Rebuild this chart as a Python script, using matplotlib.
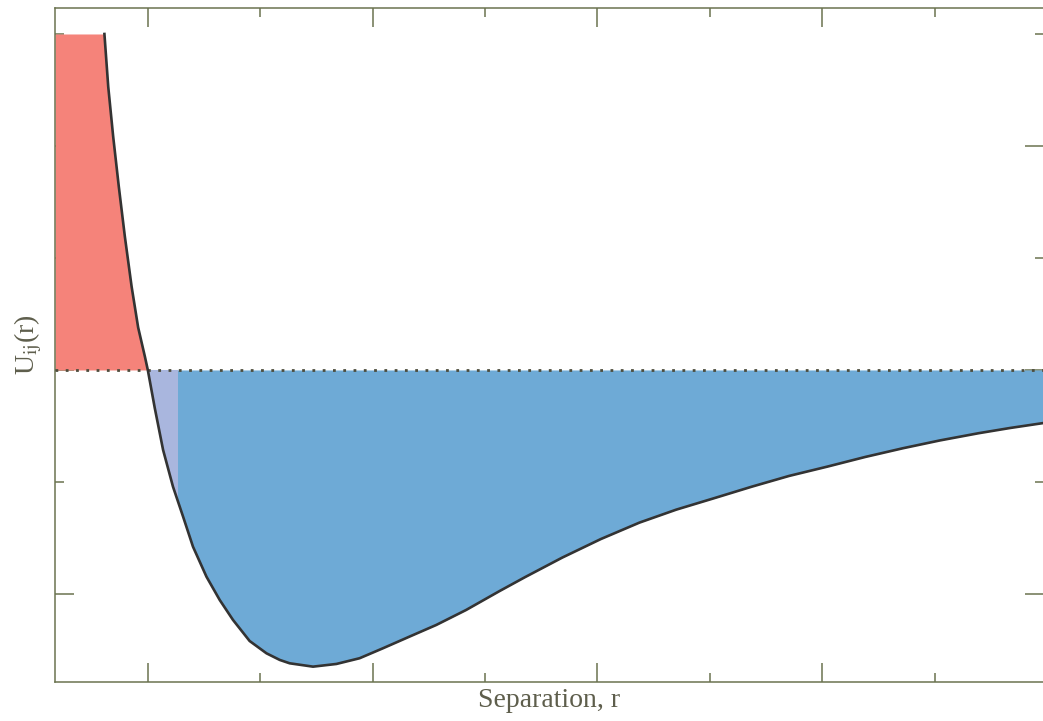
import numpy as np
import matplotlib.pyplot as plt
from matplotlib.ticker import MultipleLocator

plt.rcParams['mathtext.fontset'] = 'stix'

# Pair potential U_ij(r) (r in tick units, U in tick units)
r_vals = [0.807, 0.824, 0.846, 0.871, 0.898, 0.928, 0.957, 0.987, 1.000,
          1.031, 1.068, 1.112, 1.157, 1.201, 1.261, 1.320, 1.379, 1.453, 1.528,
          1.587, 1.631, 1.735, 1.839, 1.942, 2.046, 2.164, 2.283, 2.416, 2.564,
          2.678, 2.844, 3.015, 3.187, 3.351, 3.516, 3.687, 3.853, 4.023, 4.191,
          4.359, 4.524, 4.695, 4.836, 4.987]
u_vals = [3.000, 2.529, 2.083, 1.637, 1.190, 0.744, 0.380, 0.120, 0.000,
          -0.340, -0.714, -1.042, -1.310, -1.578, -1.846, -2.054, -2.232, -2.420, -2.530,
          -2.589, -2.619, -2.649, -2.625, -2.574, -2.485, -2.381, -2.277, -2.143, -1.975,
          -1.850, -1.675, -1.510, -1.363, -1.247, -1.147, -1.042, -0.946, -0.863, -0.777,
          -0.699, -0.629, -0.565, -0.518, -0.473]

u_cap = 3.0          # repulsive wall is cut off here
r_left = 0.587
r_right = 4.987
shade_end = 1.133    # light band next to the zero crossing

red = '#f5837a'
blue = '#6eaad6'
light = '#a9b6de'
ink = '#6b7350'

r = np.array(r_vals)
u = np.array(u_vals)

fig = plt.figure(figsize=(10.43, 7.21), dpi=100)
ax = fig.add_axes([0.0527, 0.0541, 0.9483, 0.9348])

# repulsive part: from the left edge up to the zero crossing
rep = r <= 1.0
r_rep = np.concatenate([[r_left], r[rep]])
u_rep = np.concatenate([[u_cap], u[rep]])
ax.fill_between(r_rep, 0, u_rep, color=red, lw=0, zorder=2)

# attractive well
att = r >= 1.0
well = ax.fill_between(r[att], u[att], 0, color=blue, lw=0, zorder=2)
band = ax.axvspan(1.0, shade_end, color=light, lw=0, zorder=2.1)
band.set_clip_path(well.get_paths()[0], transform=ax.transData)

ax.plot(r, u, color='#333333', lw=1.9, solid_joinstyle='round', zorder=3)
ax.axhline(0, color='#4d4d3d', lw=2.0, ls=(0, (1, 2.7)), zorder=2.8)

ax.set_xlim(r_left, r_right)
ax.set_ylim(-2.786, 3.232)

ax.xaxis.set_major_locator(MultipleLocator(1.0))
ax.xaxis.set_minor_locator(MultipleLocator(0.5))
ax.yaxis.set_major_locator(MultipleLocator(2.0))
ax.yaxis.set_minor_locator(MultipleLocator(1.0))
ax.tick_params(which='both', direction='in', top=True, right=True,
               labelbottom=False, labelleft=False, color=ink, width=1.1)
ax.tick_params(which='major', length=13.5)
ax.tick_params(which='minor', length=6.5)
for s in ax.spines.values():
    s.set_color(ink)
    s.set_linewidth(1.1)

ax.set_xlabel('Separation, r', family='Liberation Serif', fontsize=20,
              color='#5e5e4c', labelpad=4)
ax.set_ylabel(r'U$_{\mathrm{ij}}$(r)', family='Liberation Serif', math_fontfamily='stix',
              fontsize=20, color='#5e5e4c', labelpad=8)

fig.savefig('out.png', dpi=100)
